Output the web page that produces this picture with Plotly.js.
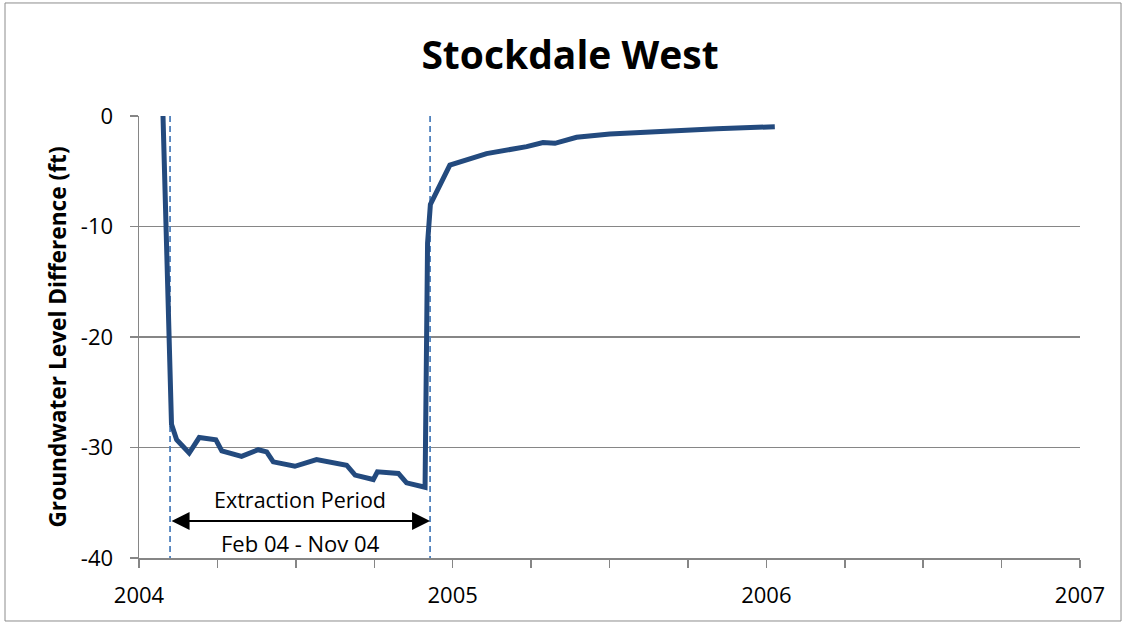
<!DOCTYPE html>
<html>
<head>
<meta charset="utf-8">
<script src="https://cdn.plot.ly/plotly-3.0.1.min.js"></script>
<style>
html,body{margin:0;padding:0;background:#fff;}
#chart{width:1128px;height:624px;}
</style>
</head>
<body>
<div id="chart"></div>
<script>
// Decimal-year dates and groundwater level difference (ft)
const years = [2004.0765, 2004.1036, 2004.120, 2004.160, 2004.192, 2004.245, 2004.264, 2004.327,
  2004.380, 2004.407, 2004.428, 2004.497, 2004.566, 2004.662, 2004.689, 2004.747, 2004.760,
  2004.827, 2004.853, 2004.912, 2004.920, 2004.929, 2004.991, 2005.108, 2005.236, 2005.288,
  2005.326, 2005.395, 2005.501, 2005.682, 2005.842, 2006.027];
const levelDiff = [0, -27.9, -29.3, -30.5, -29.1, -29.3, -30.3, -30.8,
  -30.2, -30.4, -31.3, -31.7, -31.1, -31.6, -32.5, -32.9, -32.2,
  -32.35, -33.2, -33.6, -11.5, -8.0, -4.45, -3.4, -2.77, -2.4,
  -2.47, -1.93, -1.63, -1.33, -1.15, -0.97];

// Extraction period markers
const periodStart = 2004.099;
const periodEnd = 2004.928;
const periodLabel = "Extraction Period";
const periodDates = "Feb 04 - Nov 04";

const xTickVals = [2004, 2005, 2006, 2007];
const xTickText = ["2004", "2005", "2006", "2007"];
const yTickVals = [-40, -30, -20, -10, 0];
const yTickText = ["-40", "-30", "-20", "-10", "0"];

const gridColor = "#868686";
const lineColor = "#234a7e";
const dashColor = "#4f81bd";
const fontFam = "Open Sans, sans-serif";

const traces = [
  {x: [periodStart, periodStart], y: [0, -40], mode: "lines", hoverinfo: "skip",
   line: {color: dashColor, width: 1.8, dash: "6px,4px"}},
  {x: [periodEnd, periodEnd], y: [0, -40], mode: "lines", hoverinfo: "skip",
   line: {color: dashColor, width: 1.8, dash: "6px,4px"}},
  {x: years, y: levelDiff, mode: "lines", line: {color: lineColor, width: 5}}
];

const layout = {
  width: 1128, height: 624,
  margin: {l: 139, r: 48, t: 116, b: 66},
  paper_bgcolor: "#fff", plot_bgcolor: "#fff",
  showlegend: false,
  font: {family: fontFam, color: "#000"},
  title: {text: "<b>Stockdale West</b>", font: {family: fontFam, size: 39, color: "#000"},
          x: 0.5053, xanchor: "center", y: 0.912, yanchor: "middle", xref: "container", yref: "container"},
  xaxis: {range: [2004, 2007], tickvals: xTickVals, ticktext: xTickText,
          showgrid: false, zeroline: false, showline: true, linecolor: gridColor, linewidth: 1.5,
          ticks: "outside", ticklen: 8, tickcolor: gridColor, tickwidth: 1.5,
          tickfont: {family: fontFam, size: 22, color: "#000"}, ticklabelstandoff: 9,
          minor: {dtick: 0.25, tick0: 2004, ticks: "outside", ticklen: 8, tickcolor: gridColor, tickwidth: 1.5, showgrid: false}},
  yaxis: {range: [-40, 0], tickvals: yTickVals, ticktext: yTickText,
          showgrid: true, gridcolor: gridColor, gridwidth: 1.5, zeroline: false,
          showline: true, linecolor: gridColor, linewidth: 1.5,
          ticks: "outside", ticklen: 8, tickcolor: gridColor, tickwidth: 1.5,
          tickfont: {family: fontFam, size: 22, color: "#000"}, ticklabelstandoff: 12,
          title: {text: "<b>Groundwater Level Difference (ft)</b>", font: {family: fontFam, size: 22.7, color: "#000"}, standoff: 8}},
  annotations: [
    {x: periodEnd, y: -36.65, xref: "x", yref: "y", ax: periodStart, ay: -36.65, axref: "x", ayref: "y",
     text: "", showarrow: true, arrowside: "end+start", arrowhead: 2, arrowsize: 1.8, arrowwidth: 2, arrowcolor: "#000"},
    {x: (periodStart + periodEnd) / 2, y: -34.75, xref: "x", yref: "y", text: periodLabel, showarrow: false,
     font: {family: fontFam, size: 21.5, color: "#000"}},
    {x: (periodStart + periodEnd) / 2, y: -38.6, xref: "x", yref: "y", text: periodDates, showarrow: false,
     font: {family: fontFam, size: 22, color: "#000"}}
  ],
  shapes: [
    {type: "rect", xref: "paper", yref: "paper", x0: -0.1424, x1: 1.0436, y0: -0.1425, y1: 1.2557,
     line: {color: "#8c8c8c", width: 1}, fillcolor: "rgba(0,0,0,0)", layer: "below"}
  ]
};

Plotly.newPlot("chart", traces, layout, {displayModeBar: false, staticPlot: true});
</script>
</body>
</html>
